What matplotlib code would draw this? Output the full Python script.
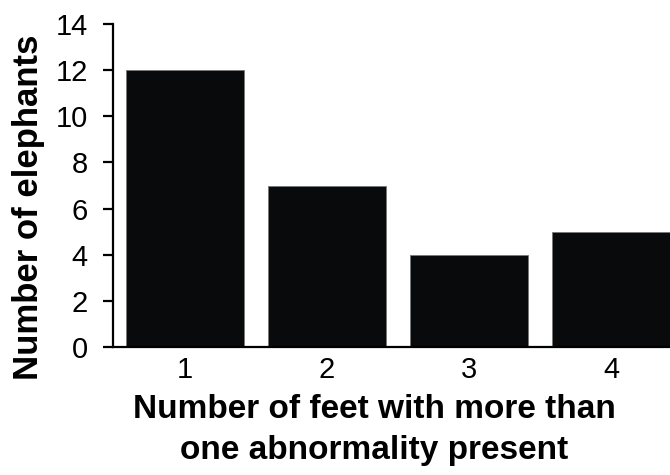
import numpy as np
import matplotlib
matplotlib.use("Agg")
import matplotlib.pyplot as plt

plt.rcParams['font.family'] = ['Liberation Sans', 'DejaVu Sans']

feet = [1, 2, 3, 4]
elephants = [12, 7, 4, 5]
y_ticks = [0, 2, 4, 6, 8, 10, 12, 14]

W, H = 670, 475
fig = plt.figure(figsize=(W / 100, H / 100), dpi=100, facecolor="white")
ax = fig.add_axes([113 / W, (H - 346.7) / H, (W - 113) / W, (346.7 - 24.3) / H])

ax.bar(feet, elephants, width=0.83, color="#080a0c", edgecolor="#777777", linewidth=0.6)
ax.set_xlim(0.496, 4.415)
ax.set_ylim(0, 14)
ax.set_xticks(feet)
ax.set_yticks(y_ticks)

for s in ["top", "right"]:
    ax.spines[s].set_visible(False)
ax.spines["left"].set_linewidth(1.6)
ax.spines["bottom"].set_linewidth(1.6)
ax.tick_params(axis="y", length=7.2, width=1.6, labelsize=21, pad=11)
ax.tick_params(axis="x", length=0, labelsize=21, pad=7)

# axis titles placed by hand, like in the source figure
fig.text(374 / W, 1 - 418 / H, "Number of feet with more than", ha="center", va="baseline",
         fontsize=24, fontweight="bold")
fig.text(374 / W, 1 - 459 / H, "one abnormality present", ha="center", va="baseline",
         fontsize=24, fontweight="bold")
fig.text(38 / W, 1 - 207.5 / H, "Number of elephants", ha="center", va="baseline",
         rotation=90, rotation_mode="anchor", fontsize=25, fontweight="bold")

fig.savefig("out.png", dpi=100)
